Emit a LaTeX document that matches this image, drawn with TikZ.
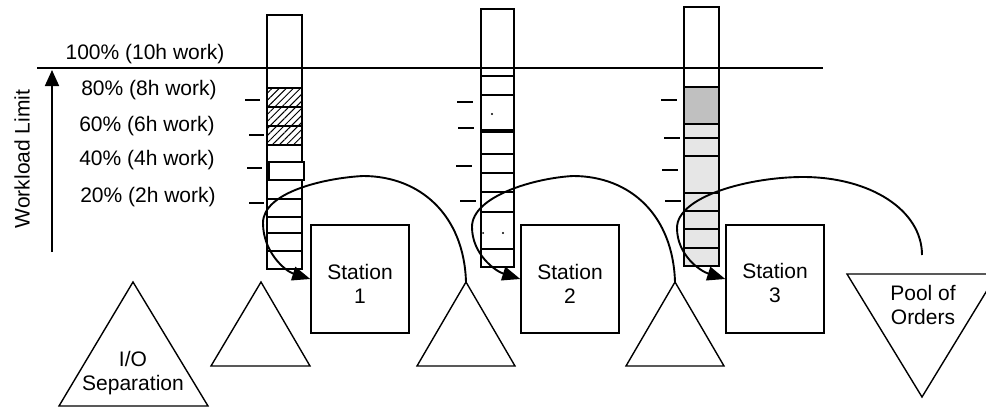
\documentclass[tikz,border=0pt]{standalone}
\usepackage{fontspec}
\setmainfont{Liberation Sans}
\usetikzlibrary{arrows.meta,patterns.meta}
\definecolor{darkfill}{RGB}{192,192,192}
\definecolor{lightfill}{RGB}{230,230,230}
\begin{document}
\begin{tikzpicture}[x=1pt,y=-1pt,
  lbl/.style={font=\fontsize{21}{24}\selectfont, inner sep=0pt},
  colbox/.style={draw, line width=2pt},
  shapeln/.style={draw, line width=1.4pt},
  tickln/.style={line width=2pt},
  flow/.style={line width=1.9pt, -{Triangle[length=18pt,width=14pt]}},
  axisarrow/.style={line width=1.8pt, -{Triangle[length=16pt,width=14pt]}},
  hatch/.style={pattern={Lines[angle=45,distance=5pt,line width=1pt]}},
  station/.style={shapeln, lbl, align=center, minimum width=98pt, minimum height=108pt}
]
\useasboundingbox (0,0) rectangle (986,410);

% limit line and axis
\coordinate (hl) at (37,68);
\coordinate (hr) at (823,68);
\draw[line width=1.9pt] (hl) -- (hr);
\coordinate (ab) at (52,252);
\coordinate (at) at (52,70);
\draw[axisarrow] (ab) -- (at);
\node[lbl, rotate=90] (wl) at (22,159) {Workload Limit};

% percentage labels
\node[lbl, anchor=base] (l100) at (145,59) {100\% (10h work)};
\node[lbl, anchor=base] (l80) at (149,95) {80\% (8h work)};
\node[lbl, anchor=base] (l60) at (147,131) {60\% (6h work)};
\node[lbl, anchor=base] (l40) at (147,165) {40\% (4h work)};
\node[lbl, anchor=base] (l20) at (148,202) {20\% (2h work)};

% column 1
\draw[colbox] (267,15) rectangle (302,269);
\draw[colbox, hatch] (267,88) rectangle (302,107);
\draw[colbox, hatch] (267,107) rectangle (302,126);
\draw[colbox, hatch] (267,126) rectangle (302,145);
\draw[colbox] (267,145) rectangle (302,162);
\draw[colbox, fill=white] (269,162) rectangle (304,180);
\draw[colbox] (267,180) rectangle (302,199);
\draw[colbox] (267,199) rectangle (302,217);
\draw[colbox] (267,217) rectangle (302,233);
\draw[colbox] (267,233) rectangle (302,251);
\draw[colbox] (267,251) rectangle (302,269);
\foreach \yy/\xa in {100/245,135/249,168/247,203/249}
  \draw[tickln] (\xa,\yy) -- ++(15,0);

% column 2
\draw[colbox] (481,9) rectangle (514,267);
\draw[colbox] (481,76) rectangle (514,95);
\draw[colbox] (481,95) rectangle (514,130);
\draw[colbox] (481,132) rectangle (514,154);
\draw[colbox] (481,154) rectangle (514,173);
\draw[colbox] (481,173) rectangle (514,192);
\draw[colbox] (481,192) rectangle (514,212);
\draw[colbox] (481,212) rectangle (514,249);
\draw[colbox] (481,249) rectangle (514,267);
\fill (492,114) circle (1.2pt);
\fill (503,233) circle (1.2pt);
\fill (483,233) circle (1pt);
\foreach \yy/\xa in {102/457,128/458,166/456,201/460}
  \draw[tickln] (\xa,\yy) -- ++(16,0);

% column 3
\draw[colbox] (684,7) rectangle (719,266);
\draw[colbox, fill=darkfill] (684,87) rectangle (719,124);
\draw[colbox, fill=lightfill] (684,124) rectangle (719,266);
\foreach \yy in {138,156,193,211,229,248}
  \draw[colbox] (684,\yy) -- (719,\yy);
\foreach \yy/\xa in {100/661,138/664,170/662,201/665}
  \draw[tickln] (\xa,\yy) -- ++(16,0);

% stations
\node[station] (s1) at (360,279) {\rule{0pt}{24pt}Station\\1};
\node[station] (s2) at (570,279) {\rule{0pt}{24pt}Station\\2};
\node[station] (s3) at (775,279) {\rule{0pt}{24pt}Station\\3};

% triangles
\coordinate (io) at (133,282);
\draw[shapeln] (io) -- (208,406) -- (59,406) -- cycle;
\node[lbl, align=center] (iot) at (133,373.5) {I/O\\Separation};
\coordinate (t1) at (261,282);
\draw[shapeln] (t1) -- (310,366) -- (211,366) -- cycle;
\coordinate (t2) at (466,282);
\draw[shapeln] (t2) -- (515,366) -- (417,366) -- cycle;
\coordinate (t3) at (675,282);
\draw[shapeln] (t3) -- (724,366) -- (626,366) -- cycle;
\coordinate (pool) at (922,397);
\draw[shapeln] (pool) -- (847,274) -- (997,274) -- cycle;
\node[lbl, align=center] (poolt) at (923,305) {Pool of\\Orders};
\coordinate (poolin) at (922,255);

% flow curves
\draw[flow] (t2) .. controls (464,215) and (420,176) .. (363,176)
  .. controls (325,178) and (263,192) .. (263,223)
  .. controls (263,252) and (285,271) .. (s1.west);
\draw[flow] (t3) .. controls (673,215) and (630,176) .. (573,176)
  .. controls (535,178) and (472,196) .. (472,227)
  .. controls (472,254) and (495,271) .. (s2.west);
\draw[flow] (poolin) .. controls (922,210) and (870,177) .. (803,177)
  .. controls (750,177) and (677,196) .. (677,228)
  .. controls (677,255) and (700,271) .. (s3.west);
\end{tikzpicture}
\end{document}
